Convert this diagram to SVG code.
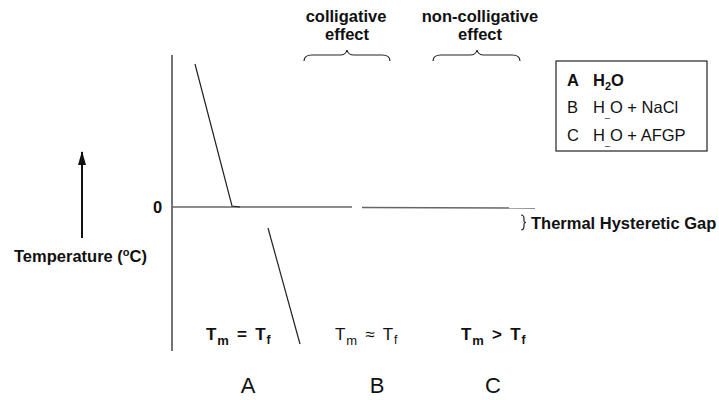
<svg xmlns="http://www.w3.org/2000/svg" width="719" height="400" viewBox="0 0 719 400">
<style>
text{font-family:"Liberation Sans",Arial,sans-serif;fill:#111}
.b{font-weight:bold;font-size:16.5px}
.lg{font-size:16.5px}
.t{font-size:17px;word-spacing:2px;letter-spacing:0.8px}
.big{font-size:22px;text-anchor:middle}
.ln{stroke:#222;stroke-width:1.2;fill:none}
.ax{stroke:#444;stroke-width:1.5;fill:none}
.zero{stroke:#666;stroke-width:1.4;fill:none}
</style>
<defs>
<marker id="ah" markerWidth="14" markerHeight="8" refX="13" refY="4" orient="auto" markerUnits="userSpaceOnUse" viewBox="0 0 14 8">
<path d="M0 0 L14 4 L0 8 Z" fill="#111"/>
</marker>
</defs>
<g id="axis">
<line class="ax" x1="172" y1="55" x2="172" y2="351"/>
<text class="b" x="153" y="213">0</text>
</g>
<g id="temp-arrow">
<line x1="82" y1="238" x2="82" y2="152" stroke="#111" stroke-width="2" marker-end="url(#ah)"/>
<text class="b" x="14" y="262">Temperature (<tspan dy="-6" font-size="11">o</tspan><tspan dy="6">C)</tspan></text>
</g>
<g id="connectors">
<line class="zero" x1="172" y1="207" x2="352" y2="207"/>
<line class="zero" x1="362" y1="207.5" x2="535" y2="208"/>
<polyline class="ln" points="195,64 232,206 240,207"/>
<line class="ln" x1="268" y1="228" x2="300" y2="344"/>
</g>
<g id="colligative">
<text class="b" x="346" y="22" text-anchor="middle">colligative</text>
<text class="b" x="347" y="40" text-anchor="middle">effect</text>
<path class="ln" d="M304 61 Q304 55 312 55 L340 55 Q346 55 347 50 Q348 55 354 55 L382 55 Q390 55 390 61" stroke-width="1.5"/>
</g>
<g id="non-colligative">
<text class="b" x="480" y="22" text-anchor="middle">non-colligative</text>
<text class="b" x="480" y="40" text-anchor="middle">effect</text>
<path class="ln" d="M433 61 Q433 55 441 55 L470 55 Q476 55 477 50 Q478 55 484 55 L512 55 Q520 55 520 61" stroke-width="1.5"/>
</g>
<g id="legend">
<rect x="556" y="61" width="151" height="90" fill="#fff" stroke="#222" stroke-width="1.2"/>
<text class="lg" x="567" y="86" font-weight="bold">A</text>
<text class="lg" x="593" y="86" font-weight="bold">H<tspan dy="4" font-size="11">2</tspan><tspan dy="-4">O</tspan></text>
<text class="lg" x="567" y="113">B</text>
<text class="lg" x="593" y="113">H<tspan dy="4" font-size="9">_</tspan><tspan dy="-4">O + NaCl</tspan></text>
<text class="lg" x="567" y="141">C</text>
<text class="lg" x="593" y="141">H<tspan dy="4" font-size="9">_</tspan><tspan dy="-4">O + AFGP</tspan></text>
</g>
<g id="gap">
<path class="ln" d="M521 215 Q524 215 524 219 L524 221 Q524 222.5 526 222.5 Q524 222.5 524 224 L524 226 Q524 230 521 230" stroke-width="1.2"/>
<text class="b" x="531" y="229">Thermal Hysteretic Gap</text>
</g>
<g id="case-A">
<text class="t" x="206" y="340" font-weight="bold">T<tspan dy="5" font-size="13">m</tspan><tspan dy="-5"> = T</tspan><tspan dy="4" font-size="12">f</tspan></text>
<text class="big" x="248" y="393">A</text>
</g>
<g id="case-B">
<text class="t" x="335" y="340">T<tspan dy="5" font-size="13">m</tspan><tspan dy="-5"> ≈ T</tspan><tspan dy="4" font-size="12">f</tspan></text>
<text class="big" x="377" y="393">B</text>
</g>
<g id="case-C">
<text class="t" x="461" y="340" font-weight="bold">T<tspan dy="5" font-size="13">m</tspan><tspan dy="-5"> &gt; T</tspan><tspan dy="4" font-size="12">f</tspan></text>
<text class="big" x="493" y="393">C</text>
</g>
</svg>
